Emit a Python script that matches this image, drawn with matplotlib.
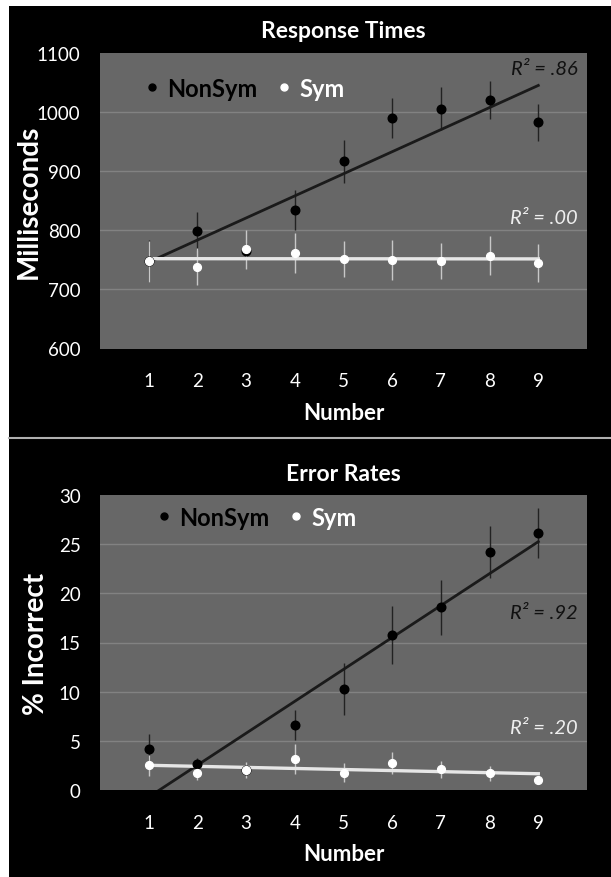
import numpy as np
import matplotlib.pyplot as plt
from matplotlib.patches import Rectangle
from matplotlib.lines import Line2D

plt.rcParams['font.family'] = ['Lato', 'DejaVu Sans']

numbers = [1, 2, 3, 4, 5, 6, 7, 8, 9]

# response times (ms)
rt_nonsym = [748, 798, 764, 834, 916, 989, 1005, 1020, 982]
rt_nonsym_err = [35, 32, 15, 34, 36, 34, 36, 32, 31]
rt_sym = [747, 738, 768, 761, 751, 749, 748, 757, 745]
rt_sym_err = [35, 31, 33, 34, 31, 34, 31, 33, 32]

# error rates (% incorrect)
er_nonsym = [4.2, 2.6, 2.0, 6.6, 10.3, 15.8, 18.6, 24.2, 26.1]
er_nonsym_err = [1.45, 0.7, 0.5, 1.5, 2.65, 2.95, 2.8, 2.6, 2.55]
er_sym = [2.5, 1.75, 2.05, 3.15, 1.75, 2.75, 2.1, 1.7, 1.0]
er_sym_err = [1.05, 0.75, 0.8, 1.5, 0.95, 1.15, 0.9, 0.75, 0.4]

bg = '#676767'
grid_c = '#828282'


def panel(ax, title, ylabel, ylab_x, ylim, yticks, ns, ns_err, s, s_err, r2, leg_anchor):
    ax.set_facecolor(bg)
    ax.set_xlim(0, 10)
    ax.set_ylim(*ylim)
    ax.set_yticks(yticks)
    ax.set_xticks(numbers)
    for y in yticks[1:-1]:
        ax.axhline(y, color=grid_c, lw=1, zorder=1)
    for sp in ax.spines.values():
        sp.set_visible(False)
    ax.tick_params(length=0, colors='white', labelsize=13.5)
    ax.tick_params(axis='x', pad=17)
    ax.tick_params(axis='y', pad=14)

    ax.errorbar(numbers, ns, yerr=ns_err, fmt='none', ecolor='#222222', elinewidth=1, zorder=2)
    ax.errorbar(numbers, s, yerr=s_err, fmt='none', ecolor='#c8c8c8', elinewidth=1, zorder=2)

    x = np.array(numbers)
    k1, b1 = np.polyfit(x, ns, 1)
    k2, b2 = np.polyfit(x, s, 1)
    ax.plot([1, 9], [k1 + b1, 9 * k1 + b1], color='#1a1a1a', lw=2, zorder=3)
    ax.plot([1, 9], [k2 + b2, 9 * k2 + b2], color='#e6e6e6', lw=2.4, zorder=3)

    ax.plot(numbers, ns, 'o', color='black', ms=6.2, zorder=4)
    ax.plot(numbers, s, 'o', color='white', ms=5.6, zorder=5)

    (t1, y1, c1), (t2, y2, c2) = r2
    ax.text(9.8, y1, t1, color=c1, ha='right', va='center', fontsize=14.5, style='italic')
    ax.text(9.8, y2, t2, color=c2, ha='right', va='center', fontsize=14.5, style='italic')

    handles = [Line2D([], [], ls='none', marker='o', color='black', ms=5),
               Line2D([], [], ls='none', marker='o', color='white', ms=5)]
    leg = ax.legend(handles, ['NonSym', 'Sym'], ncol=2, frameon=False,
                    loc='center left', bbox_to_anchor=leg_anchor,
                    handlelength=0.5, handletextpad=0.4, columnspacing=0.9,
                    prop={'weight': 'bold', 'size': 17})
    leg.get_texts()[0].set_color('black')
    leg.get_texts()[1].set_color('white')

    ax.set_title(title, color='white', fontsize=16.5, fontweight='bold', pad=11)
    ax.set_xlabel('Number', color='white', fontsize=16, fontweight='bold', labelpad=9)
    ax.set_ylabel(ylabel, color='white', fontsize=20, fontweight='bold')
    ax.yaxis.set_label_coords(ylab_x, 0.5)


fig = plt.figure(figsize=(6.11, 8.78), dpi=100)
fig.patch.set_facecolor('white')
fig.add_artist(Rectangle((9 / 611, 0), 1, 1 - 7 / 878, transform=fig.transFigure,
                         facecolor='black', edgecolor='none', zorder=0))
fig.add_artist(Line2D([9 / 611, 1], [1 - 439 / 878] * 2, transform=fig.transFigure,
                      color='#b0b0b0', lw=1.5, zorder=1))

ax1 = fig.add_axes([100 / 611, 1 - 349.5 / 878, 487 / 611, 296 / 878])
ax2 = fig.add_axes([100 / 611, 1 - 791 / 878, 487 / 611, 295 / 878])

panel(ax1, 'Response Times', 'Milliseconds', -0.12, (600, 1100), [600, 700, 800, 900, 1000, 1100],
      rt_nonsym, rt_nonsym_err, rt_sym, rt_sym_err,
      [('R² = .86', 1073, '#111111'), ('R² = .00', 822, '#eeeeee')], (0.05, 0.88))
panel(ax2, 'Error Rates', '% Incorrect', -0.105, (0, 30), [0, 5, 10, 15, 20, 25, 30],
      er_nonsym, er_nonsym_err, er_sym, er_sym_err,
      [('R² = .92', 18.1, '#111111'), ('R² = .20', 6.4, '#eeeeee')], (0.075, 0.925))

fig.savefig('out.png', dpi=100, facecolor=fig.get_facecolor())
